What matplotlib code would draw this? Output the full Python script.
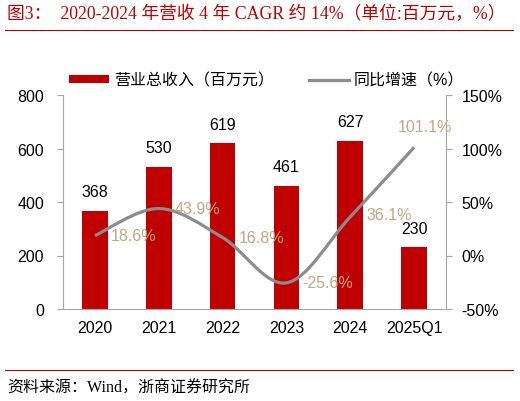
import matplotlib
matplotlib.use("Agg")
import matplotlib.pyplot as plt
from matplotlib.path import Path
from matplotlib.patches import PathPatch, Patch
from matplotlib.lines import Line2D
import numpy as np

plt.rcParams['font.family'] = ['Liberation Sans', 'Noto Sans CJK SC', 'DejaVu Sans']

categories = ['2020', '2021', '2022', '2023', '2024', '2025Q1']
revenue = [368, 530, 619, 461, 627, 230]
growth_cats = [0, 1, 2, 3, 4, 5]
growth = [18.6, 43.9, 16.8, -25.6, 36.1, 101.1]
growth_labels = ['18.6%', '43.9%', '16.8%', '-25.6%', '36.1%', '101.1%']
left_ticks = [0, 200, 400, 600, 800]
right_ticks = [-50, 0, 50, 100, 150]
right_ticklabels = ['-50%', '0%', '50%', '100%', '150%']

BAR = '#C00000'
LINE = '#8C8C8C'
LAB = '#C4A684'
SPINE = '#A6A6A6'

fig = plt.figure(figsize=(5.2, 4.02), dpi=100)
ax = fig.add_axes([63/520, 92/402, 383/520, 214/402])
ax2 = ax.twinx()

x = np.arange(len(categories))
ax.bar(x, revenue, width=0.4, color=BAR, zorder=2)
for xi, v in zip(x, revenue):
    ax.annotate(str(v), (xi, v), xytext=(0, 8.5), textcoords='offset points',
                ha='center', va='bottom', fontsize=11.5, color='black')

ax.set_xlim(-0.5, 5.5)
ax.set_ylim(0, 800)
ax.set_yticks(left_ticks)
ax.set_xticks(x)
ax.set_xticklabels(categories)
ax2.set_ylim(-50, 150)
ax2.set_yticks(right_ticks)
ax2.set_yticklabels(right_ticklabels)

for a in (ax, ax2):
    a.spines['top'].set_visible(False)
    a.spines['left'].set_color(SPINE)
    a.spines['right'].set_color(SPINE)
    a.spines['bottom'].set_color(SPINE)
ax.spines['right'].set_visible(False)
ax2.spines['left'].set_visible(False)
ax2.spines['bottom'].set_visible(False)

ax.tick_params(axis='y', length=4, color=SPINE, labelsize=11.5, pad=9.5)
ax.tick_params(axis='x', length=0, labelsize=11.5, pad=8)
ax2.tick_params(axis='y', length=4, color=SPINE, labelsize=11.5, pad=7)

# smoothed line (Catmull-Rom -> cubic Bezier)
px = np.array(growth_cats, dtype=float)
py = np.array(growth, dtype=float)
n = len(px)
verts = [(px[0], py[0])]
codes = [Path.MOVETO]
for i in range(n - 1):
    p0 = (px[i-1], py[i-1]) if i > 0 else (px[i], py[i])
    p1 = (px[i], py[i])
    p2 = (px[i+1], py[i+1])
    p3 = (px[i+2], py[i+2]) if i + 2 < n else (px[i+1], py[i+1])
    c1 = (p1[0] + (p2[0] - p0[0]) / 6, p1[1] + (p2[1] - p0[1]) / 6)
    c2 = (p2[0] - (p3[0] - p1[0]) / 6, p2[1] - (p3[1] - p1[1]) / 6)
    verts += [c1, c2, p2]
    codes += [Path.CURVE4] * 3
ax2.add_patch(PathPatch(Path(verts, codes), facecolor='none', edgecolor=LINE,
                        lw=2.3, zorder=3, capstyle='butt'))

offsets = [(28, 0), (28, 0), (28, 0), (30, 0), (28, 2), (8, 15)]
for xi, yi, lab, off in zip(growth_cats, growth, growth_labels, offsets):
    ax2.annotate(lab, (xi, yi), xytext=off, textcoords='offset points',
                 ha='center', va='center',
                 fontsize=11.5, color=LAB, zorder=4)
ax.set_zorder(1)
ax2.set_zorder(2)
ax.patch.set_visible(False)

# legend
handles = [Patch(facecolor=BAR, edgecolor='none'), Line2D([], [], color=LINE, lw=2.3)]
fig.legend(handles, ['营业总收入（百万元）', '同比增速（%）'], loc='center left',
           bbox_to_anchor=(69/520, 1 - 81/402), ncol=2, frameon=False,
           fontsize=11.5, handlelength=2.5, handleheight=0.45, handletextpad=0.3,
           columnspacing=2.2, borderaxespad=0, borderpad=0)

# title and source
fig.text(7/520, 1 - 14/402, '图3：  2020-2024 年营收 4 年 CAGR 约 14%（单位:百万元，%）',
         family=['Liberation Serif', 'Noto Sans CJK SC'], color=BAR, fontsize=12.8,
         ha='left', va='center')
fig.add_artist(Line2D([5/520, 513/520], [1 - 31/402, 1 - 31/402], color=BAR, lw=0.8))
fig.add_artist(Line2D([5/520, 513/520], [1 - 371/402, 1 - 371/402], color=BAR, lw=0.8))
fig.text(7/520, 1 - 389/402, '资料来源：Wind，浙商证券研究所',
         family=['Liberation Serif', 'Noto Sans CJK SC'], color='black', fontsize=11.5,
         ha='left', va='center')

fig.savefig('out.png', dpi=100)
